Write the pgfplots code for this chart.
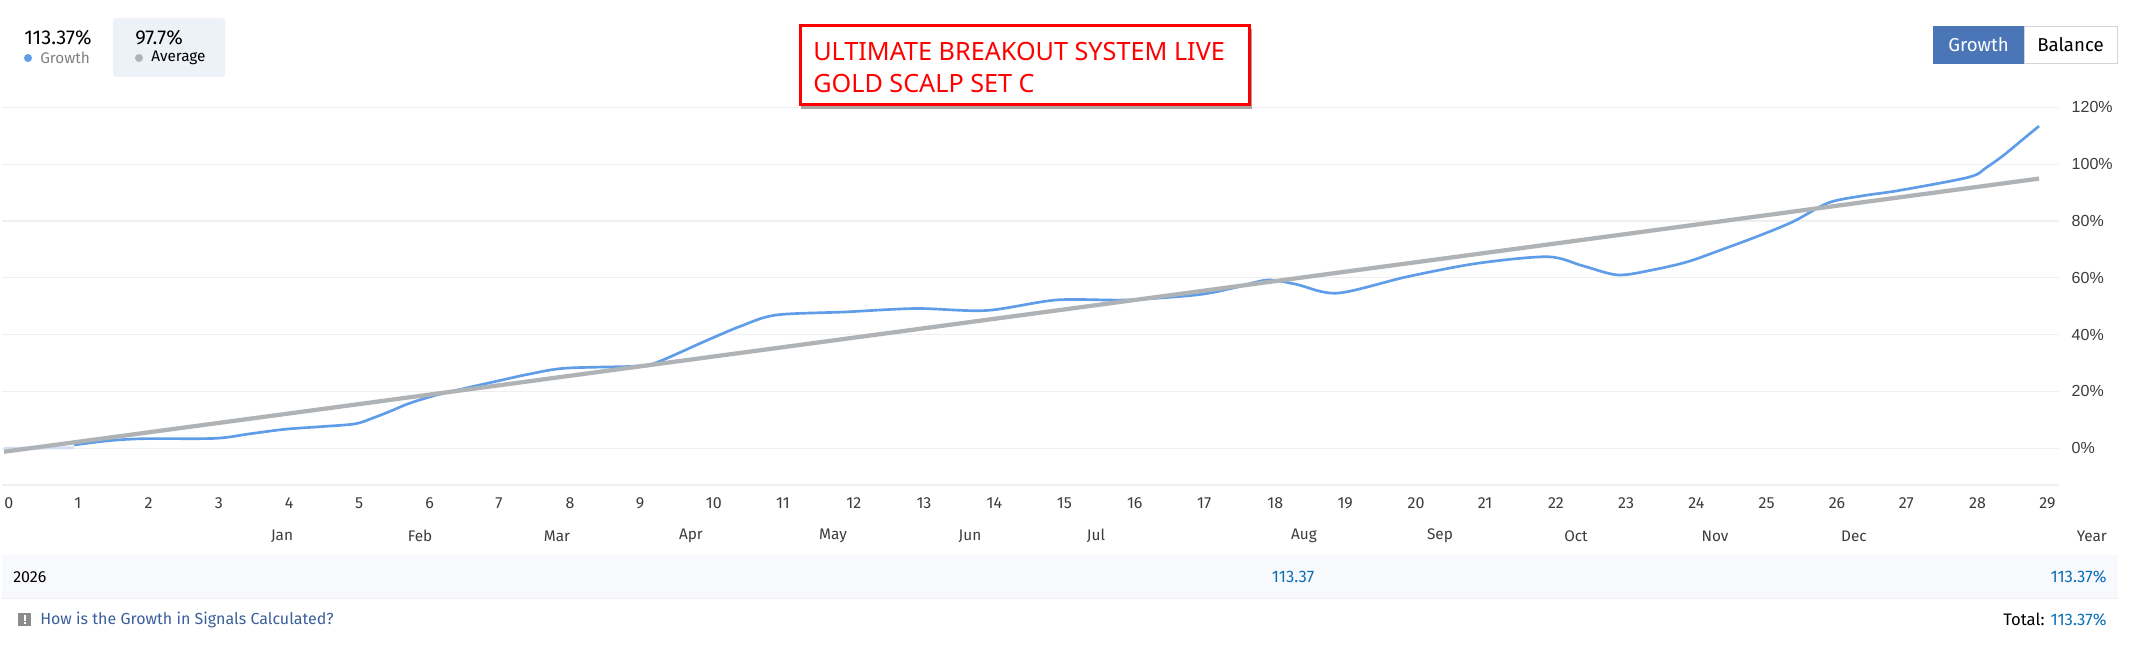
\documentclass[border=0pt]{standalone}
\usepackage{pgfplots}
\usepackage{fontspec}
\pgfplotsset{compat=1.18}
\setmainfont{Fira Sans}
\newfontfamily\arialfont{Liberation Sans}
\newfontfamily\tahomafont{Noto Sans}
\definecolor{gridc}{HTML}{EFEFEF}
\definecolor{growthc}{HTML}{5F9DE8}
\definecolor{paleb}{HTML}{D3DEF5}
\definecolor{avgc}{HTML}{B0B3B6}
\definecolor{btnc}{HTML}{4A76B8}
\definecolor{boxc}{HTML}{EDF2F9}
\definecolor{bandc}{HTML}{F8F9FD}
\definecolor{linkc}{HTML}{3B5F9B}
\definecolor{valc}{HTML}{0A70B8}
\definecolor{tickc}{HTML}{3C3C3C}
% 1 px of the reference = 0.75pt, y counted from the top
\newcommand{\fs}[1]{\fontsize{#1}{#1}\selectfont}

\begin{document}
\begin{tikzpicture}[x=0.75pt,y=-0.75pt]
\path[fill=white] (0,0) rectangle (2132,655);

% table band under the chart
\fill[bandc] (2,555) rectangle (2118,598);
\draw[gridc,line width=0.75pt] (2,598.5) -- (2118,598.5);

\coordinate (axsw) at (2,485);
\begin{axis}[
    at={(axsw)}, anchor=south west,
    scale only axis,
    width=1542.75pt, height=283.3pt,
    xmin=-0.0285, xmax=29.285,
    ymin=-12.9, ymax=120,
    axis x line*=bottom, axis y line*=right,
    x axis line style={draw=gridc,line width=1.5pt,-},
    y axis line style={draw=none,-},
    major tick length=0pt,
    clip=false,
    xtick={0,1,...,29},
    ytick={0,20,40,60,80,100,120},
    ymajorgrids,
    grid style={gridc,line width=0.9pt},
    xticklabel style={font=\fs{12pt},text=tickc,anchor=north west,inner xsep=0pt,yshift=-6pt},
    yticklabel={\pgfmathprintnumber{\tick}\%},
    yticklabel style={font=\arialfont\fs{12pt},text=tickc,anchor=west,xshift=6pt},
    /pgf/number format/assume math mode=true,
]
% growth, first stretch is drawn pale in the reference
\addplot[paleb,line width=2.2pt] coordinates {(0,0) (1,0.2)};
\addplot[growthc,line width=2pt,smooth,tension=0.5] coordinates {
    (1,1.2) (1.5,2.7) (2,3.4) (3,3.5) (3.5,5.1) (4,6.7) (4.5,7.6) (5,8.6) (5.25,10.6)
    (5.5,13) (5.75,15.6) (6,17.6) (6.3,19.6) (7,23.5) (7.5,26.2) (8,28.2) (9,28.9)
    (9.3,30.2) (10,37.8) (10.5,43) (11,46.9) (12,48) (13,49.2) (14,48.5) (15,52.2)
    (16,52.2) (17,54) (17.5,56.3) (18,59.2) (18.4,57.8) (19,54.6) (20,60.4)
    (21,65.1) (22,67.4) (22.5,64.2) (23,61) (23.5,62.8) (24,65.7) (24.5,70.1)
    (25,74.7) (25.5,79.8) (26,86.4) (26.5,88.9) (27,90.7) (28,95.4) (28.25,98.8)
    (28.5,103.2) (28.75,108.3) (29,113.37)
};
% average
\addplot[avgc,line width=3.2pt] coordinates {(0,-1.2) (29,94.9)};
\end{axis}

% stat blocks, top left
\fill[boxc,rounded corners=2] (113,18) rectangle (225,77);
\node[anchor=west,inner sep=0,font=\fs{15pt}] at (24,38) {113.37\%};
\node[anchor=west,inner sep=0,font=\fs{15pt}] at (135,38) {97.7\%};
\fill[growthc] (28,58) circle (4);
\fill[avgc] (139,58) circle (4);
\node[anchor=west,inner sep=0,font=\fs{11.5pt},text=gray] at (40,58) {Growth};
\node[anchor=west,inner sep=0,font=\fs{11.5pt}] at (151,58) {Average};

% red title box
\fill[black!35] (801,29) rectangle (1252,109);
\draw[red,fill=white,line width=2.25pt] (800,26) rectangle (1249.5,105);
\node[anchor=west,inner sep=0,text=red,font=\tahomafont\fs{18.9pt}] at (813,51.5) {ULTIMATE BREAKOUT SYSTEM LIVE};
\node[anchor=west,inner sep=0,text=red,font=\tahomafont\fs{18.9pt}] at (813,83) {GOLD SCALP SET C};

% growth / balance switch
\draw[fill=white,draw=black!17,line width=0.75pt] (2024,26.5) rectangle (2117.5,63.5);
\fill[btnc] (1933,26) rectangle (2024,64);
\node[text=white,inner sep=0,font=\fs{14pt}] at (1978.5,45) {Growth};
\node[inner sep=0,font=\fs{14pt}] at (2070.5,45) {Balance};

% month row
\foreach \m/\px in {Jan/282,Feb/420,Mar/557,Apr/691,May/833,Jun/970,Jul/1096,Aug/1304,Sep/1440,Oct/1576,Nov/1715,Dec/1854}
    \node[inner sep=0,text=tickc,font=\fs{11.5pt}] at (\px,536) {\m};
\node[anchor=east,inner sep=0,text=tickc,font=\fs{11.5pt}] at (2107,536) {Year};

% table row and footer
\node[anchor=west,inner sep=0,font=\fs{12pt}] at (13,577) {2026};
\node[inner sep=0,text=valc,font=\fs{12.5pt}] at (1293,577) {113.37};
\node[anchor=east,inner sep=0,text=valc,font=\fs{12.5pt}] at (2107,577) {113.37\%};
\fill[black!45] (18,613.5) rectangle (31,626.5);
\fill[white] (23.5,615.5) rectangle (25.5,621);
\fill[white] (23.5,622.5) rectangle (25.5,624.5);
\node[anchor=west,inner sep=0,text=linkc,font=\fs{12pt}] at (40,620) {How is the Growth in Signals Calculated?};
\node[anchor=east,inner sep=0,font=\fs{12.5pt}] at (2107,620) {\textcolor{black}{Total:} \textcolor{valc}{113.37\%}};
\end{tikzpicture}
\end{document}
